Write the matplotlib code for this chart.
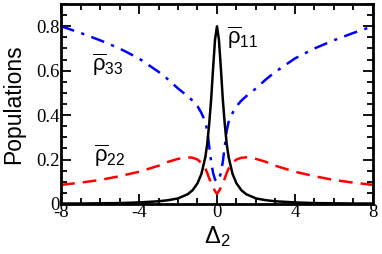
import matplotlib
matplotlib.use("Agg")
import matplotlib.pyplot as plt
from matplotlib.ticker import MultipleLocator

plt.rcParams["mathtext.fontset"] = "custom"
plt.rcParams["mathtext.rm"] = "Liberation Sans"
plt.rcParams["mathtext.it"] = "Liberation Sans"

# detuning values (only the right half is read; the curves are symmetric)
x_half = [0.0, 0.1, 0.2, 0.3, 0.4, 0.5, 0.6, 0.8, 1.0, 1.25, 1.5, 2.0,
          2.5, 3.0, 4.0, 5.0, 6.0, 7.0, 8.0]

# populations
rho11_half = [0.80, 0.74, 0.61, 0.47, 0.36, 0.27, 0.21, 0.135, 0.093, 0.062,
              0.044, 0.025, 0.017, 0.012, 0.007, 0.004, 0.003, 0.002, 0.002]
rho22_half = [0.045, 0.058, 0.075, 0.095, 0.115, 0.14, 0.16, 0.185, 0.20,
              0.208, 0.21, 0.203, 0.19, 0.172, 0.145, 0.125, 0.108, 0.096, 0.086]
rho33_half = [0.10, 0.11, 0.14, 0.19, 0.26, 0.33, 0.37, 0.41, 0.44, 0.465,
              0.485, 0.52, 0.56, 0.595, 0.655, 0.70, 0.737, 0.77, 0.80]

xticks = [-8, -4, 0, 4, 8]
xticklabels = ["-8", "-4", "0", "4", "8"]
yticks = [0, 0.2, 0.4, 0.6, 0.8]
yticklabels = ["0", "0.2", "0.4", "0.6", "0.8"]

# mirror to get the full range -8..8
x = [-v for v in x_half[:0:-1]] + x_half
rho11 = rho11_half[:0:-1] + rho11_half
rho22 = rho22_half[:0:-1] + rho22_half
rho33 = rho33_half[:0:-1] + rho33_half

fig = plt.figure(figsize=(3.82, 2.54), dpi=100)
ax = fig.add_axes([0.160, 0.197, 0.816, 0.787])

ax.plot(x, rho33, color="#0000ff", lw=1.8, dashes=(5.5, 3, 1.3, 3))
ax.plot(x, rho22, color="#ff0000", lw=1.8, dashes=(5.5, 3.2))
ax.plot(x, rho11, color="black", lw=1.8)

ax.set_xlim(-8, 8)
ax.set_ylim(0, 0.9)
ax.set_xticks(xticks, xticklabels, fontfamily="Liberation Serif", fontsize=13.5)
ax.set_yticks(yticks, yticklabels, fontfamily="Liberation Serif", fontsize=13.5)
ax.xaxis.set_minor_locator(MultipleLocator(1))
ax.yaxis.set_minor_locator(MultipleLocator(0.05))

ax.tick_params(which="both", direction="in", top=True, right=True, width=1.3)
ax.tick_params(which="major", length=7)
ax.tick_params(which="minor", length=4.5)
ax.tick_params(axis="x", pad=0)
ax.tick_params(axis="y", pad=1)
for s in ax.spines.values():
    s.set_linewidth(2)

ax.set_ylabel("Populations", family="Liberation Sans", fontsize=16.5, labelpad=8)
ax.set_xlabel(r"$\Delta_2$", fontsize=17, labelpad=2)

ax.text(-6.4, 0.60, r"$\overline{\rho}_{33}$", fontsize=16)
ax.text(-6.3, 0.19, r"$\overline{\rho}_{22}$", fontsize=16)
ax.text(0.5, 0.72, r"$\overline{\rho}_{11}$", fontsize=16)

fig.savefig("out.png", dpi=100)
